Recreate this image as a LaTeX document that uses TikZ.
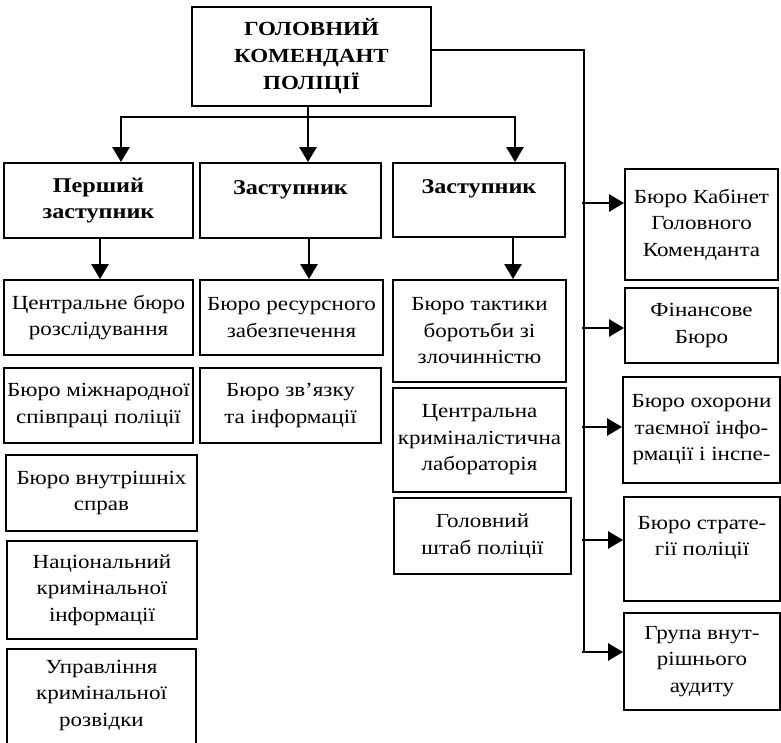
\documentclass[tikz,border=0pt]{standalone}
\usepackage{fontspec}
\setmainfont[FakeStretch=1.15]{Liberation Serif}
\usetikzlibrary{arrows.meta}
\tikzset{
  box/.style={draw, line width=1.9pt, rectangle, inner sep=0pt, align=center,
    font=\fontsize{20}{26.5}\selectfont},
  hbox/.style={box, font=\fontsize{21}{26.5}\selectfont\bfseries},
  conn/.style={line width=2.7pt},
  arr/.style={line width=2.7pt, -{Triangle[length=15pt,width=17pt]}},
}
\begin{document}
\begin{tikzpicture}[x=1pt,y=-1pt]
\useasboundingbox (0,0) rectangle (781,743);
\clip (0,0) rectangle (781,743);
% top
\node[hbox, font=\fontsize{20}{27}\selectfont\bfseries, minimum width=239pt, minimum height=99pt] (top) at (311.5,56.5) {ГОЛОВНИЙ\\КОМЕНДАНТ\\ПОЛІЦІЇ};
% row 1
\node[hbox, minimum width=189pt, minimum height=75pt] (b1) at (98.5,200.5) {Перший\\заступник};
\node[hbox, minimum width=181pt, minimum height=75pt] (b2) at (290.5,200.5) {Заступник\\\mbox{}};
\node[hbox, minimum width=172pt, minimum height=74pt] (b3) at (479,200) {Заступник\\\mbox{}};
% row 2
\node[box, minimum width=189pt, minimum height=75pt] (c1) at (98.5,317.5) {Центральне бюро\\розслідування};
\node[box, minimum width=183pt, minimum height=75pt] (c2) at (291.5,317.5) {Бюро ресурсного\\забезпечення};
\node[box, minimum width=173pt, minimum height=102pt] (c3) at (479.5,331) {Бюро тактики\\боротьби зі\\злочинністю};
% row 3
\node[box, minimum width=189pt, minimum height=75pt] (d1) at (98.5,405.5) {Бюро міжнародної\\співпраці поліції};
\node[box, minimum width=181pt, minimum height=75pt] (d2) at (290.5,405.5) {Бюро зв’язку\\та інформації};
\node[box, minimum width=173pt, minimum height=104pt] (d3) at (479.5,440) {Центральна\\криміналістична\\лабораторія};
% row 4+
\node[box, minimum width=191pt, minimum height=76pt] (e1) at (101.5,493) {Бюро внутрішніх\\справ};
\node[box, minimum width=177pt, minimum height=76pt] (e3) at (482.5,536) {Головний\\штаб поліції};
\node[box, minimum width=190pt, minimum height=98pt] (f1) at (102,590) {Національний\\кримінальної\\інформації};
\node[box, minimum width=189pt, minimum height=110pt, text depth=22pt] (g1) at (101.5,704) {Управління\\кримінальної\\розвідки};
% right column
\node[box, minimum width=153pt, minimum height=111pt] (r1) at (701.5,224.5) {Бюро Кабінет\\Головного\\Коменданта};
\node[box, minimum width=153pt, minimum height=75pt] (r2) at (701.5,325.5) {Фінансове\\Бюро};
\node[box, minimum width=157pt, minimum height=106pt] (r3) at (701.5,430) {Бюро охорони\\таємної інфо-\\рмації і інспе-};
\node[box, minimum width=156pt, minimum height=104pt] (r4) at (702,549) {Бюро страте-\\гії поліції\\\mbox{}};
\node[box, minimum width=156pt, minimum height=97pt] (r5) at (702,661.5) {Група внут-\\рішнього\\аудиту};
% connectors from top
\coordinate (j0) at (308,117);
\coordinate (jl) at (121,117);
\coordinate (jr) at (515,117);
\draw[conn] (top.south -| j0) -- (j0);
\draw[conn, line cap=rect] (jl) -- (jr);
\draw[arr] (jl) -- (jl |- b1.north);
\draw[arr] (j0) -- (j0 |- b2.north);
\draw[arr] (jr) -- (jr |- b3.north);
% second level
\coordinate (k1) at (100,0);
\coordinate (k2) at (309,0);
\coordinate (k3) at (513,0);
\draw[arr] (k1 |- b1.south) -- (k1 |- c1.north);
\draw[arr] (k2 |- b2.south) -- (k2 |- c2.north);
\draw[arr] (k3 |- b3.south) -- (k3 |- c3.north);
% right bus
\coordinate (t1) at (584,50);
\coordinate (t2) at (584,652);
\draw[conn] (top.east |- t1) -- (t1) -- (t2);
\draw[arr] (582,203) -- (r1.west |- 0,203);
\draw[arr] (582,328) -- (r2.west |- 0,328);
\draw[arr] (582,427) -- (r3.west |- 0,427);
\draw[arr] (582,540) -- (r4.west |- 0,540);
\draw[arr] (t2) ++(-2,0) -- (r5.west |- t2);
\end{tikzpicture}
\end{document}
